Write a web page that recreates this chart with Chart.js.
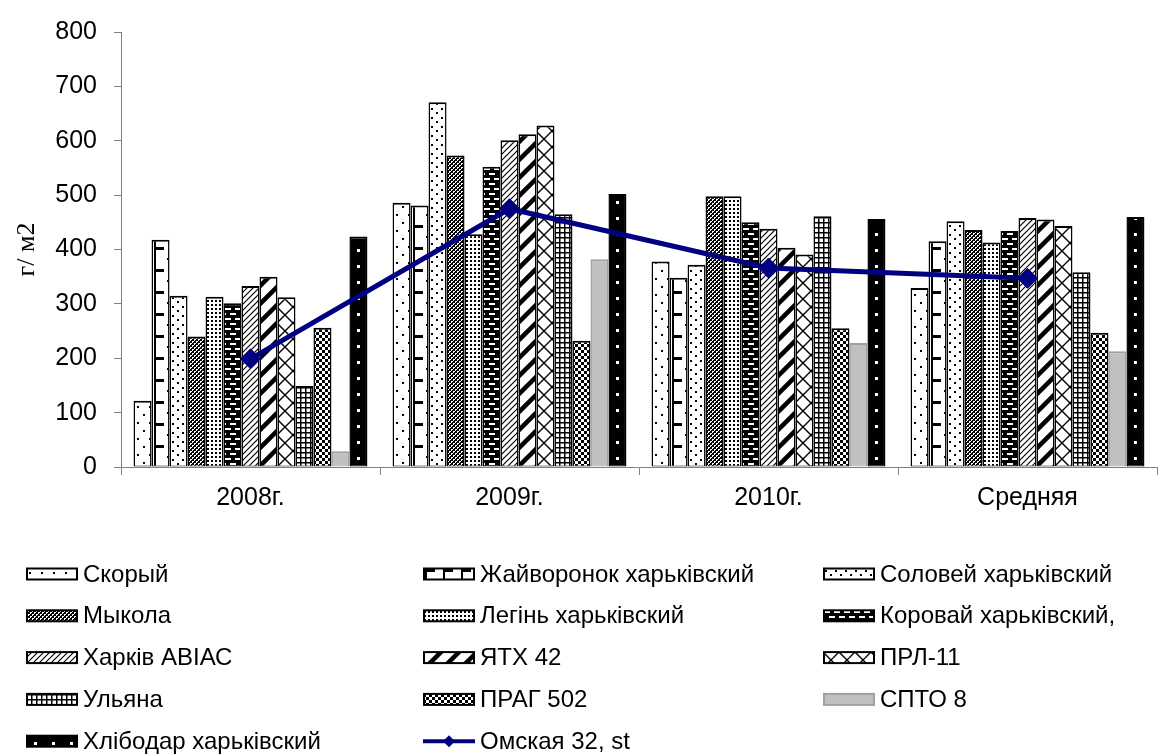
<!DOCTYPE html>
<html>
<head>
<meta charset="utf-8">
<script src="https://cdn.jsdelivr.net/npm/chart.js@4.4.1/dist/chart.umd.min.js"></script>
<style>
  html, body { margin: 0; padding: 0; background: #fff; overflow: hidden; }
  #wrap { position: relative; width: 1168px; height: 755px; }
</style>
</head>
<body>
<div id="wrap"><canvas id="chart"></canvas></div>
<script>
// categories on the x axis
const categories = ['2008г.', '2009г.', '2010г.', 'Средняя'];

// yield per variety, г/м2
const skoryi       = [122, 486, 378, 329];
const zhaivoronok  = [418, 481, 348, 415];
const solovei      = [315, 671, 372, 452];
const mykola       = [240, 573, 498, 436];
const legin        = [313, 428, 498, 413];
const korovai      = [301, 552, 450, 434];
const kharkivAviac = [333, 601, 438, 458];
const yatx42       = [350, 612, 403, 455];
const prl11        = [312, 628, 391, 443];
const ulyana       = [149, 465, 461, 358];
const prag502      = [256, 232, 255, 247];
const spto8        = [29, 382, 228, 213];
const khlibodar    = [424, 502, 456, 460];
const omskaya      = [199, 475, 366, 347];   // standard, drawn as a line

const barNames = ['Скорый', 'Жайворонок харьківский', 'Соловей харьківский',
    'Мыкола', 'Легінь харьківский', 'Коровай харьківский,',
    'Харків АВІАС', 'ЯТХ 42', 'ПРЛ-11',
    'Ульяна', 'ПРАГ 502', 'СПТО 8', 'Хлібодар харьківский'];
const barValues = [skoryi, zhaivoronok, solovei, mykola, legin, korovai,
    kharkivAviac, yatx42, prl11, ulyana, prag502, spto8, khlibodar];
const lineName = 'Омская 32, st';

const yMin = 0, yMax = 800, yStep = 100;

// small bitmap tiles that imitate the Excel fill patterns
function tile(w, h, bg, draw) {
    const c = document.createElement('canvas');
    c.width = w; c.height = h;
    const g = c.getContext('2d');
    g.fillStyle = bg;
    g.fillRect(0, 0, w, h);
    g.fillStyle = '#000';
    g.strokeStyle = '#000';
    if (draw) draw(g, w, h);
    return c;
}
function diag(g, w, h, lw) {
    g.lineWidth = lw;
    g.beginPath();
    g.moveTo(-w, 2 * h); g.lineTo(2 * w, -h);
    g.moveTo(-w, h); g.lineTo(w, -h);
    g.moveTo(0, 2 * h); g.lineTo(2 * w, 0);
    g.stroke();
}

const tiles = [
    tile(12, 16, '#fff', g => { g.fillRect(3, 3, 2, 2); g.fillRect(9, 11, 2, 2); }),
    tile(18, 22, '#fff', g => { g.fillRect(2, 0, 2, 22); g.fillRect(4, 0, 8, 3); g.fillRect(15, 11, 2, 2); }),
    tile(10, 9, '#fff', g => { g.fillRect(2, 1, 2, 2); g.fillRect(7, 5, 2, 2); }),
    tile(4, 4, '#fff', g => { g.fillRect(0, 0, 2, 2); g.fillRect(2, 2, 2, 2); g.fillRect(3, 1, 1, 1); g.fillRect(1, 3, 1, 1); }),
    tile(4, 4, '#fff', g => { g.fillRect(1, 1, 2, 2); }),
    tile(10, 10, '#000', g => { g.fillStyle = '#fff'; g.fillRect(1, 1, 6, 2); g.fillRect(6, 6, 4, 2); g.fillRect(0, 6, 2, 2); }),
    tile(6, 6, '#fff', (g, w, h) => diag(g, w, h, 1.2)),
    tile(18, 18, '#fff', (g, w, h) => diag(g, w, h, 4.5)),
    tile(16, 16, '#fff', (g, w, h) => {
        g.lineWidth = 1.4;
        g.beginPath();
        g.moveTo(0, 0); g.lineTo(w, h);
        g.moveTo(0, h); g.lineTo(w, 0);
        g.stroke();
    }),
    tile(5, 5, '#fff', g => { g.fillRect(0, 0, 5, 1.5); g.fillRect(0, 0, 1.5, 5); }),
    tile(6, 6, '#fff', g => { g.fillRect(0, 0, 3, 3); g.fillRect(3, 3, 3, 3); }),
    null,
    tile(18, 16, '#000', g => { g.fillStyle = '#fff'; g.fillRect(8, 6, 3, 3); })
];
const sptoFill = '#c0c0c0';
const sptoBorder = '#a0a0a0';
const lineColor = '#000080';

function patternAt(ctx, i, x, y) {
    if (!tiles[i]) return sptoFill;
    const p = ctx.createPattern(tiles[i], 'repeat');
    p.setTransform(new DOMMatrix([1, 0, 0, 1, Math.round(x), Math.round(y)]));
    return p;
}

// legend in a fixed 3 column grid, like the Excel one
const gridLegend = {
    id: 'gridLegend',
    afterDraw(chart) {
        const ctx = chart.ctx;
        const colX = [26, 423, 823];
        const rowY = 574, rowGap = 41.8;
        const iconW = 52, iconH = 11;
        const items = barNames.concat([lineName]);
        ctx.save();
        ctx.font = '24px "Liberation Sans", Arial, sans-serif';
        ctx.textBaseline = 'middle';
        ctx.fillStyle = '#000';
        items.forEach((name, i) => {
            const x = colX[i % 3];
            const y = rowY + Math.floor(i / 3) * rowGap;
            if (i < barNames.length) {
                ctx.fillStyle = patternAt(ctx, i, x, y - iconH / 2);
                ctx.fillRect(x, y - iconH / 2, iconW, iconH);
                ctx.lineWidth = 2;
                ctx.strokeStyle = tiles[i] ? '#000' : sptoBorder;
                ctx.strokeRect(x + 1, y - iconH / 2, iconW - 2, iconH);
            } else {
                ctx.strokeStyle = lineColor;
                ctx.fillStyle = lineColor;
                ctx.lineWidth = 4;
                ctx.beginPath();
                ctx.moveTo(x, y); ctx.lineTo(x + iconW, y);
                ctx.stroke();
                const cx = x + iconW / 2, r = 6;
                ctx.beginPath();
                ctx.moveTo(cx, y - r); ctx.lineTo(cx + r, y);
                ctx.lineTo(cx, y + r); ctx.lineTo(cx - r, y);
                ctx.closePath();
                ctx.fill();
            }
            ctx.fillStyle = '#000';
            ctx.fillText(name, x + iconW + 5, y + 1);
        });
        ctx.restore();
    }
};

const tickFont = { family: '"Liberation Sans", Arial, sans-serif', size: 25 };

const datasets = [{
    type: 'line',
    label: lineName,
    data: omskaya,
    order: 0,
    borderColor: lineColor,
    backgroundColor: lineColor,
    borderWidth: 5,
    pointStyle: 'rectRot',
    pointRadius: 10,
    pointBorderWidth: 1,
    pointBackgroundColor: lineColor,
    pointBorderColor: lineColor,
    tension: 0
}];
barNames.forEach((name, i) => {
    datasets.push({
        type: 'bar',
        label: name,
        data: barValues[i],
        order: 1,
        backgroundColor: tiles[i] ? '#fff' : sptoFill,
        borderColor: tiles[i] ? '#000' : sptoBorder,
        borderWidth: { top: 2, left: 1.5, right: 1.5, bottom: 1 },
        borderSkipped: false,
        categoryPercentage: 0.903,
        barPercentage: 1.0
    });
});

const chart = new Chart(document.getElementById('chart'), {
    data: { labels: categories, datasets: datasets },
    options: {
        responsive: true,
        maintainAspectRatio: false,
        animation: false,
        layout: { padding: { top: 23, right: 1.5, bottom: 238, left: 0 } },
        plugins: {
            legend: { display: false },
            tooltip: { enabled: false }
        },
        scales: {
            x: {
                afterFit: s => { s.height = 50; },
                grid: { display: true, drawOnChartArea: false, offset: true, tickLength: 8, color: '#808080' },
                border: { color: '#808080' },
                ticks: { color: '#000', font: tickFont, padding: 8, maxRotation: 0 }
            },
            y: {
                min: yMin,
                max: yMax,
                afterFit: s => { s.width = 121; },
                grid: { drawOnChartArea: false, tickLength: 7, color: '#808080' },
                border: { color: '#808080' },
                ticks: { stepSize: yStep, color: '#000', font: tickFont, padding: 17 },
                title: {
                    display: true,
                    text: 'г/ м2',
                    color: '#000',
                    font: { family: '"Liberation Serif", "Times New Roman", serif', size: 26 },
                    padding: { top: 12, bottom: 0 }
                }
            }
        }
    },
    plugins: [gridLegend]
});

// line the fill patterns up with each bar's own left edge
function alignPatterns(chart) {
    const bottom = chart.chartArea.bottom;
    chart.data.datasets.forEach((ds, di) => {
        if (ds.type !== 'bar') return;
        const i = barNames.indexOf(ds.label);
        if (!tiles[i]) return;
        const meta = chart.getDatasetMeta(di);
        ds.backgroundColor = meta.data.map(bar => patternAt(chart.ctx, i, bar.x - bar.width / 2, bottom));
    });
    chart.update('none');
}
alignPatterns(chart);
</script>
</body>
</html>
